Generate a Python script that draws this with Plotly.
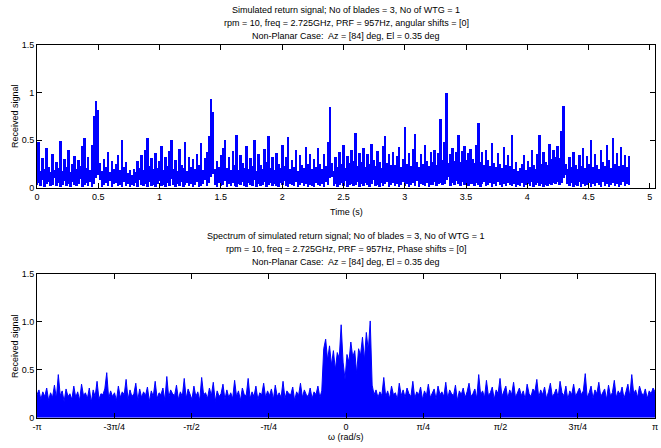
import numpy as np
import plotly.graph_objects as go

# ---------------- data ----------------
# Time signal: ~4600 samples are drawn densely; recorded here per display column
# as the highest and lowest value reached in that column.
t_start, t_end = 0.0, 4.83
signal_max = [
    0.24,0.48,0.18,0.31,0.20,0.42,0.22,0.17,0.36,0.19,0.27,0.21,0.49,0.18,0.30,0.22,0.40,0.17,0.25,0.34,
    0.20,0.29,0.23,0.44,0.52,0.21,0.33,0.19,0.45,0.76,0.91,0.82,0.26,0.18,0.30,0.22,0.38,0.17,0.28,0.20,
    0.25,0.35,0.19,0.50,0.22,0.27,0.16,0.19,0.14,0.20,0.17,0.28,0.21,0.35,0.19,0.40,0.52,0.23,0.31,0.20,
    0.37,0.21,0.28,0.44,0.19,0.32,0.23,0.39,0.50,0.20,0.29,0.18,0.41,0.24,0.21,0.48,0.18,0.33,0.22,0.30,
    0.20,0.36,0.24,0.47,0.19,0.31,0.38,0.55,0.93,0.80,0.20,0.28,0.22,0.35,0.42,0.50,0.21,0.32,0.19,0.39,
    0.24,0.56,0.19,0.35,0.26,0.21,0.44,0.20,0.31,0.23,0.50,0.18,0.36,0.24,0.20,0.41,0.27,0.55,0.21,0.33,
    0.19,0.37,0.25,0.21,0.45,0.23,0.32,0.53,0.20,0.29,0.22,0.40,0.18,0.35,0.24,0.21,0.43,0.25,0.36,0.20,
    0.30,0.22,0.42,0.25,0.20,0.36,0.23,0.48,0.85,0.26,0.18,0.33,0.22,0.38,0.25,0.45,0.21,0.34,0.26,0.40,
    0.28,0.58,0.23,0.37,0.27,0.42,0.22,0.36,0.25,0.46,0.29,0.23,0.39,0.27,0.21,0.44,0.55,0.26,0.36,0.24,
    0.38,0.24,0.34,0.43,0.22,0.30,0.64,0.25,0.37,0.23,0.41,0.57,0.27,0.22,0.36,0.25,0.45,0.28,0.23,0.38,
    0.27,0.40,0.24,0.37,0.72,0.29,0.48,1.00,0.26,0.36,0.42,0.28,0.38,0.56,0.27,0.39,0.44,0.29,0.37,0.41,
    0.30,0.26,0.45,0.68,0.27,0.38,0.24,0.40,0.29,0.23,0.47,0.26,0.22,0.37,0.25,0.21,0.43,0.24,0.35,0.23,
    0.56,0.20,0.27,0.18,0.21,0.25,0.35,0.19,0.28,0.22,0.40,0.24,0.20,0.36,0.56,0.25,0.38,0.27,0.24,0.46,
    0.30,0.40,0.32,0.44,0.31,0.60,0.86,0.25,0.20,0.33,0.22,0.38,0.24,0.20,0.35,0.23,0.42,0.21,0.34,0.25,
    0.50,0.22,0.36,0.24,0.20,0.40,0.27,0.23,0.45,0.29,0.21,0.52,0.25,0.37,0.23,0.43,0.24,0.35,0.22,0.34,
]
signal_min = [
    0.03,0.05,0.02,0.08,0.01,0.04,0.06,0.02,0.03,0.10,0.02,0.05,0.01,0.03,0.07,0.02,0.04,0.01,0.06,0.03,
    0.02,0.04,0.09,0.01,0.03,0.05,0.02,0.06,0.01,0.04,0.10,0.14,0.08,0.01,0.03,0.05,0.02,0.07,0.01,0.04,
    0.05,0.02,0.03,0.01,0.06,0.02,0.04,0.01,0.03,0.02,0.05,0.01,0.08,0.03,0.02,0.04,0.01,0.06,0.02,0.03,
    0.01,0.04,0.07,0.02,0.03,0.01,0.05,0.02,0.09,0.03,0.01,0.04,0.02,0.06,0.01,0.03,0.05,0.02,0.04,0.01,
    0.03,0.06,0.01,0.02,0.04,0.08,0.02,0.05,0.12,0.15,0.03,0.01,0.05,0.02,0.03,0.07,0.01,0.04,0.02,0.05,
    0.02,0.01,0.04,0.03,0.06,0.02,0.01,0.05,0.03,0.02,0.08,0.01,0.04,0.02,0.03,0.06,0.01,0.03,0.05,0.02,
    0.04,0.02,0.01,0.05,0.03,0.07,0.02,0.01,0.04,0.03,0.02,0.06,0.01,0.03,0.05,0.02,0.04,0.01,0.03,0.02,
    0.01,0.05,0.03,0.02,0.04,0.01,0.06,0.03,0.10,0.12,0.02,0.04,0.01,0.03,0.05,0.02,0.07,0.01,0.03,0.04,
    0.02,0.03,0.06,0.01,0.04,0.02,0.05,0.03,0.01,0.04,0.08,0.02,0.03,0.01,0.05,0.02,0.04,0.06,0.01,0.03,
    0.05,0.02,0.04,0.01,0.03,0.06,0.02,0.04,0.01,0.03,0.05,0.02,0.07,0.01,0.04,0.03,0.02,0.05,0.01,0.03,
    0.03,0.06,0.02,0.04,0.05,0.03,0.04,0.08,0.12,0.02,0.05,0.03,0.07,0.04,0.02,0.06,0.03,0.05,0.02,0.04,
    0.04,0.02,0.05,0.03,0.01,0.04,0.06,0.02,0.03,0.05,0.01,0.04,0.02,0.06,0.03,0.01,0.04,0.02,0.05,0.03,
    0.02,0.04,0.01,0.03,0.02,0.05,0.01,0.03,0.04,0.02,0.06,0.01,0.03,0.05,0.02,0.04,0.01,0.03,0.02,0.04,
    0.03,0.05,0.04,0.06,0.03,0.05,0.10,0.14,0.04,0.02,0.05,0.01,0.03,0.02,0.06,0.01,0.04,0.02,0.03,0.05,
    0.01,0.04,0.02,0.05,0.03,0.01,0.06,0.02,0.04,0.01,0.03,0.05,0.02,0.04,0.01,0.03,0.06,0.02,0.04,0.03,
]

spectrum = [
    0.24,0.29,0.19,0.27,0.22,0.31,0.18,0.26,0.21,0.34,0.20,0.45,0.23,0.28,0.17,0.30,0.22,0.25,0.19,0.33,
    0.21,0.27,0.18,0.35,0.23,0.26,0.20,0.31,0.16,0.29,0.22,0.38,0.19,0.25,0.24,0.30,0.47,0.20,0.28,0.22,
    0.26,0.18,0.33,0.21,0.27,0.24,0.40,0.19,0.29,0.22,0.25,0.36,0.18,0.30,0.21,0.27,0.23,0.32,0.17,0.28,
    0.22,0.38,0.20,0.26,0.24,0.31,0.18,0.43,0.21,0.29,0.25,0.23,0.34,0.19,0.27,0.22,0.41,0.20,0.30,0.24,
    0.19,0.33,0.22,0.27,0.18,0.42,0.24,0.26,0.20,0.31,0.23,0.37,0.17,0.28,0.22,0.25,0.35,0.19,0.29,0.21,
    0.26,0.20,0.39,0.22,0.28,0.18,0.31,0.24,0.23,0.41,0.20,0.27,0.22,0.33,0.19,0.26,0.24,0.36,0.21,0.28,
    0.23,0.30,0.19,0.34,0.22,0.26,0.21,0.38,0.20,0.28,0.25,0.24,0.32,0.18,0.27,0.23,0.36,0.21,0.29,0.24,
    0.22,0.31,0.20,0.27,0.24,0.33,0.21,0.28,0.72,0.82,0.60,0.75,0.55,0.70,0.50,0.68,0.62,0.97,0.58,0.40,
    0.66,0.58,0.79,0.63,0.70,0.46,0.72,0.65,0.84,0.60,0.89,0.70,1.01,0.34,0.24,0.29,0.21,0.27,0.23,0.42,
    0.22,0.28,0.20,0.33,0.24,0.26,0.19,0.36,0.23,0.29,0.21,0.31,0.25,0.22,0.38,0.20,0.27,0.24,0.32,0.19,
    0.28,0.23,0.35,0.21,0.26,0.30,0.19,0.33,0.24,0.27,0.22,0.37,0.20,0.29,0.25,0.23,0.34,0.18,0.28,0.24,
    0.31,0.21,0.27,0.36,0.22,0.25,0.30,0.20,0.45,0.24,0.28,0.21,0.39,0.23,0.26,0.32,0.19,0.29,0.25,0.41,
    0.22,0.27,0.33,0.20,0.29,0.24,0.37,0.21,0.26,0.31,0.23,0.28,0.19,0.35,0.25,0.22,0.30,0.27,0.40,0.21,
    0.29,0.24,0.32,0.20,0.27,0.36,0.22,0.25,0.30,0.21,0.38,0.26,0.23,0.33,0.19,0.28,0.24,0.35,0.22,0.27,
    0.31,0.24,0.28,0.46,0.21,0.26,0.33,0.20,0.29,0.25,0.37,0.22,0.27,0.30,0.19,0.34,0.23,0.26,0.39,0.21,
    0.28,0.24,0.32,0.20,0.27,0.35,0.22,0.45,0.25,0.29,0.21,0.33,0.26,0.23,0.30,0.20,0.28,0.25,0.31,0.27,
]

time_ticks = [0, 0.5, 1, 1.5, 2, 2.5, 3, 3.5, 4, 4.5, 5]
time_tick_labels = ["0", "0.5", "1", "1.5", "2", "2.5", "3", "3.5", "4", "4.5", "5"]
y_ticks = [0, 0.5, 1, 1.5]
y_tick_labels_top = ["0", "0.5", "1", "1.5"]
y_tick_labels_bot = ["0", "0.5", "1.0", "1.5"]
omega_ticks = [-np.pi, -3*np.pi/4, -np.pi/2, -np.pi/4, 0, np.pi/4, np.pi/2, 3*np.pi/4, np.pi]
omega_tick_labels = ["-π", "-3π/4", "-π/2", "-π/4", "0", "π/4", "π/2", "3π/4", "π"]

title_top = ["Simulated return signal; No of blades = 3, No of WTG = 1",
             "rpm = 10, freq = 2.725GHz, PRF = 957Hz, angular shifts = [0]",
             "Non-Planar Case:  Az = [84] deg, El = 0.35 deg"]
title_bot = ["Spectrum of simulated return signal; No of blades = 3, No of WTG = 1",
             "rpm = 10, freq = 2.725GHz, PRF = 957Hz, Phase shifts = [0]",
             "Non-Planar Case:  Az = [84] deg, El = 0.35 deg"]

# ---------------- figure ----------------
W, H = 661, 448
ML, MR = 37, 6
PW = W - ML - MR
BLUE = "#0000ff"
FONT = "Liberation Sans, Arial, sans-serif"

t = np.linspace(t_start, t_end, len(signal_max))
sig_lo = np.array(signal_min)
sig_span = np.array(signal_max) - sig_lo
w = np.linspace(-np.pi, np.pi, len(spectrum))

fig = go.Figure()
fig.add_trace(go.Bar(x=t, y=sig_span, base=sig_lo, marker=dict(color=BLUE, line=dict(width=0)),
                     xaxis="x", yaxis="y", showlegend=False, hoverinfo="skip"))
fig.add_trace(go.Scatter(x=w, y=spectrum, mode="lines", line=dict(color=BLUE, width=1),
                         fill="tozeroy", fillcolor=BLUE,
                         xaxis="x2", yaxis="y2", showlegend=False, hoverinfo="skip"))

def py(px):
    return 1 - px / H

def pxr(px):
    return (px - ML) / PW

axis_common = dict(showline=True, linecolor="black", linewidth=1, mirror="ticks",
                   ticks="inside", ticklen=5, tickcolor="black", showgrid=False,
                   zeroline=False, automargin=False,
                   tickfont=dict(family=FONT, size=9, color="black"))

fig.update_layout(
    width=W, height=H, paper_bgcolor="white", plot_bgcolor="white",
    margin=dict(l=ML, r=MR, t=0, b=0), bargap=0,
    xaxis=dict(domain=[0, 1], range=[0, 5.042], anchor="y",
               tickvals=time_ticks, ticktext=time_tick_labels, **axis_common),
    yaxis=dict(domain=[py(187.7), py(44.7)], range=[0, 1.5], anchor="x",
               tickvals=y_ticks, ticktext=y_tick_labels_top, **axis_common),
    xaxis2=dict(domain=[0, 1], range=[-np.pi, np.pi], anchor="y2",
                tickvals=omega_ticks, ticktext=omega_tick_labels, **axis_common),
    yaxis2=dict(domain=[py(417.7), py(274)], range=[0, 1.5], anchor="x2",
                tickvals=y_ticks, ticktext=y_tick_labels_bot, **axis_common),
)

cx = 0.5
ann = []
def text(s, x, y, angle=0):
    ann.append(dict(text=s, x=x, y=y, xref="paper", yref="paper", showarrow=False,
                    xanchor="center", yanchor="middle", textangle=angle,
                    font=dict(family=FONT, size=9, color="black")))

for i, line in enumerate(title_top):
    text(line, cx, py(10 + 13 * i))
for i, line in enumerate(title_bot):
    text(line, cx, py(236 + 13 * i))
text("Time (s)", cx, py(212))
text("ω (rad/s)", cx, py(437))
for yc in (116, 346):
    text("Received signal", pxr(15), py(yc), -90)
fig.update_layout(annotations=ann)

fig.write_html("out.html", config={"displayModeBar": False},
               post_script="document.body.style.margin='0px';")
